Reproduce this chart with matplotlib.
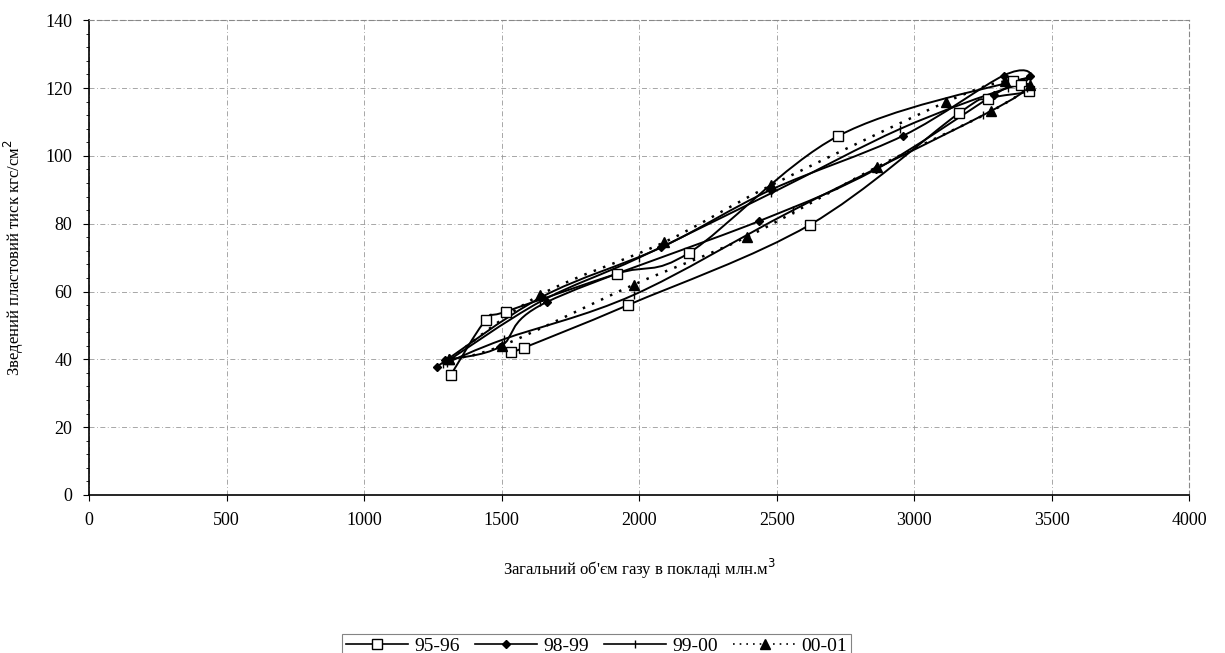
import numpy as np
import matplotlib
matplotlib.use("Agg")
from matplotlib import pyplot as plt
from matplotlib.path import Path
from matplotlib.patches import PathPatch

plt.rcParams['font.family'] = ['Liberation Serif', 'DejaVu Serif']

# 95-96
x_9596 = [1315, 1442, 1516, 1921, 2181, 2722, 3361, 3390, 3419, 3267, 3163, 2621, 1959, 1580, 1533]
y_9596 = [35.4, 51.6, 54.1, 65.3, 71.4, 105.8, 122.0, 120.8, 119.0, 116.9, 112.6, 79.7, 56.0, 43.4, 42.1]

# 98-99
x_9899 = [1264, 1646, 2080, 2479, 2961, 3325, 3422, 3290, 2860, 2434, 1664, 1494, 1294]
y_9899 = [37.8, 58.4, 73.0, 90.0, 106.0, 123.7, 123.7, 118.0, 96.0, 80.7, 56.9, 43.7, 39.8]

# 99-00
x_9900 = [1285, 1640, 2000, 2480, 2950, 3340, 3410, 3250, 2560, 1980, 1510, 1300]
y_9900 = [38.5, 57.0, 70.0, 89.0, 108.0, 120.0, 120.0, 112.0, 84.0, 59.0, 46.0, 39.0]

# 00-01
x_0001 = [1310, 1640, 2090, 2479, 3116, 3330, 3420, 3278, 2864, 2391, 1980, 1500, 1310]
y_0001 = [40.0, 59.0, 74.5, 91.3, 115.9, 122.0, 121.0, 113.1, 96.7, 76.1, 62.0, 44.0, 40.0]

labels = ['95-96', '98-99', '99-00', '00-01']


def smooth_path(xs, ys):
    # Excel-like smoothed line: Catmull-Rom segments as cubic Bezier
    P = np.column_stack([xs, ys]).astype(float)
    n = len(P)
    verts = [P[0]]
    codes = [Path.MOVETO]
    for i in range(n - 1):
        p0 = P[i - 1] if i > 0 else P[i]
        p1 = P[i]
        p2 = P[i + 1]
        p3 = P[i + 2] if i + 2 < n else P[i + 1]
        c1 = p1 + (p2 - p0) / 6.0
        c2 = p2 - (p3 - p1) / 6.0
        verts += [c1, c2, p2]
        codes += [Path.CURVE4] * 3
    return Path(verts, codes)


fig = plt.figure(figsize=(12.25, 6.53), dpi=100)
ax = fig.add_axes([0.0728, 0.242, 0.898, 0.727])

series = [
    (x_9596, y_9596, dict(marker='s', ms=7, mfc='white', mec='black', mew=1.0), '-'),
    (x_9899, y_9899, dict(marker='D', ms=4.5, mfc='black', mec='black'), '-'),
    (x_9900, y_9900, dict(marker='|', ms=6, mec='black', mew=1.0), '-'),
    (x_0001, y_0001, dict(marker='^', ms=6.5, mfc='black', mec='black'), (0, (1, 3))),
]

handles = []
for (xs, ys, mk, ls), lab in zip(series, labels):
    patch = PathPatch(smooth_path(xs, ys), facecolor='none', edgecolor='black',
                      lw=1.4 if ls == '-' else 1.8, linestyle=ls, zorder=2)
    ax.add_patch(patch)
    ax.plot(xs, ys, linestyle='none', zorder=3, **mk)
    h, = ax.plot([], [], color='black', lw=1.2, linestyle=ls, **mk)
    handles.append(h)

ax.set_xlim(0, 4000)
ax.set_ylim(0, 140)
ax.set_xticks(np.arange(0, 4001, 500))
ax.set_yticks(np.arange(0, 141, 20))
ax.grid(True, color='#999999', linestyle=(0, (6, 3, 1, 3)), linewidth=0.6)
ax.set_axisbelow(True)
for s in ['top', 'right']:
    ax.spines[s].set_color('#888888')
    ax.spines[s].set_linestyle((0, (4, 3)))
    ax.spines[s].set_linewidth(0.8)
for s in ['left', 'bottom']:
    ax.spines[s].set_linewidth(1.2)
ax.tick_params(labelsize=13, length=4, direction='out', pad=8)
ax.set_yticks(np.arange(0, 141, 4), minor=True)
ax.tick_params(axis='y', which='minor', length=2, direction='out')

ax.set_xlabel("Загальний об'єм газу в покладі млн.м$^3$", fontsize=12, labelpad=20)
ax.set_ylabel("Зведений пластовий тиск кгс/см$^2$", fontsize=12, labelpad=14)

leg = fig.legend(handles, labels, loc='center', bbox_to_anchor=(0.487, 0.01), ncol=4,
                 fontsize=14, frameon=True, fancybox=False, edgecolor='#666666',
                 handlelength=3.2, handletextpad=0.3, columnspacing=0.8,
                 borderpad=0.2)
leg.get_frame().set_linewidth(0.8)

fig.savefig('out.png', dpi=100)
